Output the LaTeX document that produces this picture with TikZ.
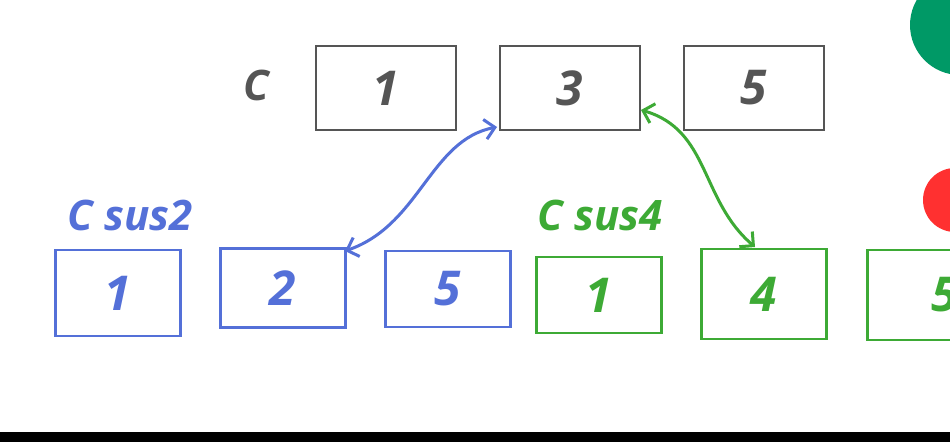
\documentclass[tikz,border=0pt]{standalone}
\usepackage{fontspec}
\setmainfont{Open Sans}
\usetikzlibrary{arrows.meta}
\definecolor{gr}{HTML}{555555}
\definecolor{bl}{HTML}{5470D8}
\definecolor{gn}{HTML}{3DAA35}
\begin{document}
\begin{tikzpicture}[x=1pt,y=-1pt,
 box/.style={draw,line width=2.6pt,minimum width=125pt,minimum height=80pt,inner sep=0pt,font=\fontsize{48}{48}\selectfont\bfseries\itshape},
 lab/.style={font=\fontsize{42}{42}\selectfont\bfseries\itshape},
 arr/.style={line width=3pt,{Straight Barb[length=10pt,width=20pt]}-{Straight Barb[length=10pt,width=20pt]}}]
\useasboundingbox (0,0) rectangle (950,442);
\fill[white] (0,0) rectangle (950,442);
\begin{scope}
\clip (0,0) rectangle (950,442);
\fill[teal!80!green] (960,25) circle (50);
\fill[red!75!pink] (955,200) circle (32);
\end{scope}
\fill[black] (0,432) rectangle (950,442);
\node[lab,text=gr] (c) at (256,85) {C};
\node[box,draw=gr,text=gr,minimum width=140pt,minimum height=84pt] (a1) at (386,88) {1};
\node[box,draw=gr,text=gr,minimum width=140pt,minimum height=84pt] (a3) at (570,88) {3};
\node[box,draw=gr,text=gr,minimum width=140pt,minimum height=84pt] (a5) at (754,88) {5};
\node[lab,text=bl] (s2) at (130,215) {C sus2};
\node[box,draw=bl,text=bl,minimum height=86pt] (b1) at (118,293) {1};
\node[box,draw=bl,text=bl,minimum height=79pt] (b2) at (283,288) {2};
\node[box,draw=bl,text=bl,minimum height=76pt] (b5) at (448,289) {5};
\node[lab,text=gn] (s4) at (600,215) {C sus4};
\node[box,draw=gn,text=gn,minimum height=76pt] (g1) at (599,295) {1};
\node[box,draw=gn,text=gn,minimum height=90pt] (g4) at (764,294) {4};
\node[box,draw=gn,text=gn,minimum height=90pt,anchor=west] (g5) at (866,295) {\hspace*{30pt}5};
\coordinate (p1) at (345,251);
\coordinate (p2) at (497,127);
\coordinate (q1) at (641,110);
\coordinate (q2) at (755,247);
\draw[arr,bl] (p1) .. controls (420,225) and (430,140) .. (p2);
\draw[arr,gn] (q1) .. controls (710,130) and (700,200) .. (q2);
\end{tikzpicture}
\end{document}
